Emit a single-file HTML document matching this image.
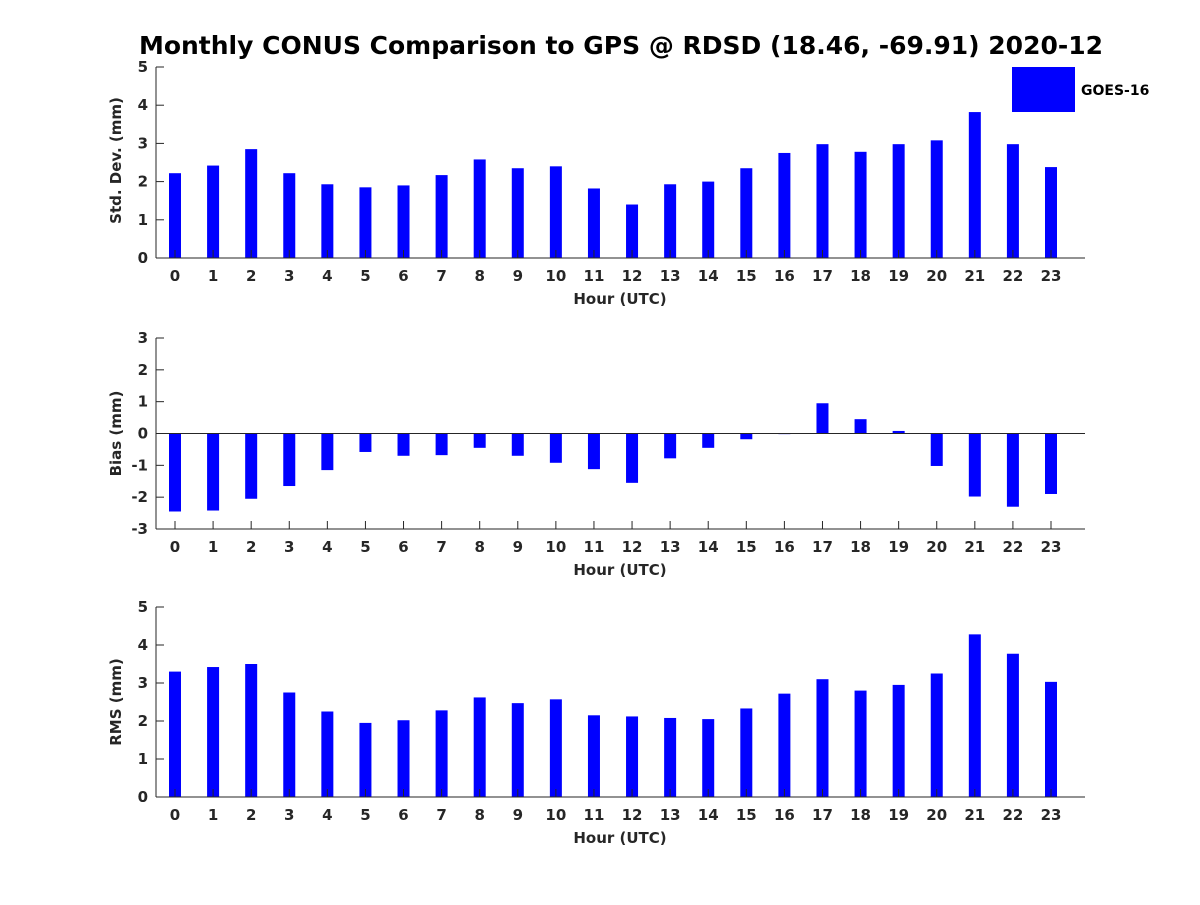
<!DOCTYPE html>
<html><head><meta charset="utf-8"><style>
body{margin:0;background:#fff;}
svg text{font-family:"DejaVu Sans","Liberation Sans",sans-serif;font-weight:bold;fill:#262626;}
</style></head><body>
<svg id="chart" width="1200" height="900" xmlns="http://www.w3.org/2000/svg">
<text x="621" y="54" text-anchor="middle" font-size="25" style="fill:#000">Monthly CONUS Comparison to GPS @ RDSD (18.46, -69.91) 2020-12</text>
<rect x="1012" y="67" width="63" height="45" fill="#0000ff"/>
<text x="1081" y="95" font-size="14" style="fill:#000">GOES-16</text>
</svg>
<script>
const hours=[0,1,2,3,4,5,6,7,8,9,10,11,12,13,14,15,16,17,18,19,20,21,22,23];
const stdVals=[2.22,2.42,2.85,2.22,1.93,1.85,1.9,2.17,2.58,2.35,2.4,1.82,1.4,1.93,2.0,2.35,2.75,2.98,2.78,2.98,3.08,3.82,2.98,2.38];
const biasVals=[-2.45,-2.42,-2.05,-1.65,-1.15,-0.58,-0.7,-0.68,-0.45,-0.7,-0.92,-1.12,-1.55,-0.78,-0.45,-0.18,-0.02,0.95,0.45,0.08,-1.02,-1.98,-2.3,-1.9];
const rmsVals=[3.3,3.42,3.5,2.75,2.25,1.95,2.02,2.28,2.62,2.47,2.57,2.15,2.12,2.08,2.05,2.33,2.72,3.1,2.8,2.95,3.25,4.28,3.77,3.03];
const stdTicks=[0,1,2,3,4,5];
const biasTicks=[-3,-2,-1,0,1,2,3];
const rmsTicks=[0,1,2,3,4,5];
const svg=document.getElementById('chart');
const NS='http://www.w3.org/2000/svg';
function mk(tag,attrs,parent){const e=document.createElementNS(NS,tag);for(const k in attrs)e.setAttribute(k,attrs[k]);(parent||svg).appendChild(e);return e;}
const xL=156,xR=1085;
const xs=h=>175+h*(1051-175)/23;
function panel(name,vals,ticks,top,bot,ylab,yoff){
  const g=mk('g',{});
  
  
  const mn=ticks[0],mx=ticks[ticks.length-1];
  const ys=v=>bot-(v-mn)/(mx-mn)*(bot-top);
  vals.forEach((v,i)=>{
    const y0=ys(0),y1=ys(v);
    const r=mk('rect',{x:xs(hours[i])-6,y:Math.min(y0,y1),width:12,height:Math.abs(y1-y0),fill:'#0000ff'},g);
    
    
  });
  mk('line',{x1:xL,x2:xL,y1:top,y2:bot,stroke:'#262626'},g);
  mk('line',{x1:xL,x2:xR,y1:bot,y2:bot,stroke:'#262626'},g);
  if(mn<0)mk('line',{x1:xL,x2:xR,y1:ys(0),y2:ys(0),stroke:'#262626'},g);
  ticks.forEach(t=>{
    const y=ys(t);
    mk('line',{x1:xL,x2:xL+8,y1:y,y2:y,stroke:'#262626'},g);
    const tx=mk('text',{x:xL-8,y:y+5,'text-anchor':'end','font-size':15},g);tx.textContent=t;
    
    
  });
  hours.forEach(h=>{
    mk('line',{x1:xs(h),x2:xs(h),y1:bot,y2:bot-8,stroke:'#262626'},g);
    const tx=mk('text',{x:xs(h),y:bot+23,'text-anchor':'middle','font-size':15},g);tx.textContent=h;
    
    
  });
  const xl=mk('text',{x:620,y:bot+46,'text-anchor':'middle','font-size':15},g);xl.textContent='Hour (UTC)';
  
  
  const cy=(top+bot)/2+yoff;
  const yl=mk('text',{x:121,y:cy,'text-anchor':'middle','font-size':15,transform:`rotate(-90 121 ${cy})`},g);yl.textContent=ylab;
  
  
}
panel('std',stdVals,stdTicks,67,258,'Std. Dev. (mm)',-2);
panel('bias',biasVals,biasTicks,338,529,'Bias (mm)',0);
panel('rms',rmsVals,rmsTicks,607,797,'RMS (mm)',0);
</script>
</body></html>
